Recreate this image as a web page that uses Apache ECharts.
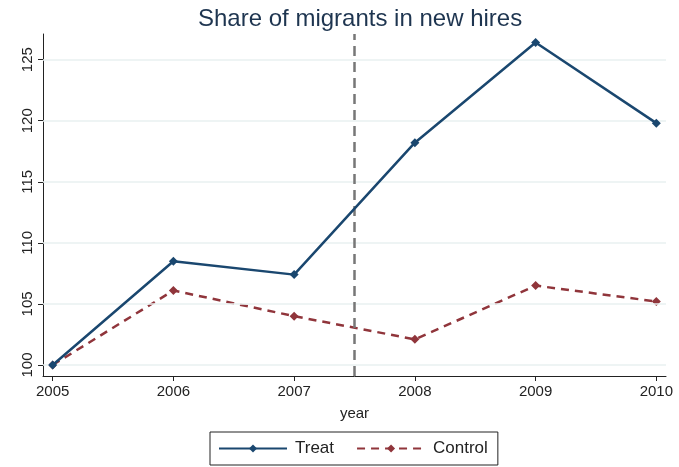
<!DOCTYPE html>
<html><head><meta charset="utf-8">
<script src="https://cdn.jsdelivr.net/npm/echarts@6/dist/echarts.min.js"></script>
<style>html,body{margin:0;padding:0;background:#fff}#c{width:679px;height:467px}</style>
</head><body><div id="c"></div>
<script>
const years = [2005, 2006, 2007, 2008, 2009, 2010];
const treat = [100.0, 108.5, 107.4, 118.2, 126.4, 119.8];
const control = [100.0, 106.1, 104.0, 102.1, 106.5, 105.2];
const yTicks = [100, 105, 110, 115, 120, 125];
const cutoff = 2007.5;

const font = 'Liberation Sans, Arial, sans-serif';
const chart = echarts.init(document.getElementById('c'));
chart.setOption({
  animation: false,
  title: {text: 'Share of migrants in new hires', left: 193, top: 2,
    textStyle: {fontFamily: font, fontSize: 24, fontWeight: 'normal', color: '#1e3550'}},
  grid: {left: 43, right: 13, top: 34, bottom: 91},
  xAxis: {type: 'value', min: 2004.92, max: 2010.08,
    name: 'year', nameLocation: 'middle', nameGap: 30,
    nameTextStyle: {fontFamily: font, fontSize: 15, color: '#222'},
    axisLine: {show: true, lineStyle: {color: '#222'}},
    axisTick: {show: true, length: 5, customValues: years, lineStyle: {color: '#222'}},
    axisLabel: {customValues: years, formatter: v => String(v), fontFamily: font, fontSize: 15, color: '#222', margin: 8},
    splitLine: {show: false}},
  yAxis: {type: 'value', min: 99.1, max: 127.1,
    axisLine: {show: true, lineStyle: {color: '#222'}},
    axisTick: {show: true, length: 5, customValues: yTicks, lineStyle: {color: '#222'}},
    axisLabel: {customValues: yTicks, rotate: 90, fontFamily: font, fontSize: 15, color: '#222', margin: 8},
    splitLine: {show: false}},
  legend: {bottom: 2, left: 210, itemWidth: 68, itemHeight: 10, itemGap: 22,
    borderColor: '#222', borderWidth: 1, padding: [8, 10, 8, 8],
    textStyle: {fontFamily: font, fontSize: 17, color: '#222', padding: [0, 0, 0, 3]},
    data: ['Treat', 'Control']},
  series: [
    {name: 'grid', type: 'line', data: [], silent: true,
      markLine: {silent: true, symbol: 'none', label: {show: false},
        lineStyle: {color: '#e8f0f1', type: 'solid', width: 1.5},
        data: yTicks.map(v => ({yAxis: v}))}},
    {name: 'Treat', type: 'line', data: years.map((y, i) => [y, treat[i]]),
      symbol: 'diamond', symbolSize: 9, color: '#1a476f',
      lineStyle: {width: 2.5, color: '#1a476f'}, z: 5},
    {name: 'Control', type: 'line', data: years.map((y, i) => [y, control[i]]),
      symbol: 'diamond', symbolSize: 9, color: '#90353b',
      lineStyle: {width: 2.5, color: '#90353b', type: [8, 6]}, z: 4,
      markLine: {silent: true, symbol: 'none', label: {show: false},
        lineStyle: {color: '#777', type: [10, 6], width: 2.5},
        data: [{xAxis: cutoff}]}}
  ]
});
</script></body></html>
